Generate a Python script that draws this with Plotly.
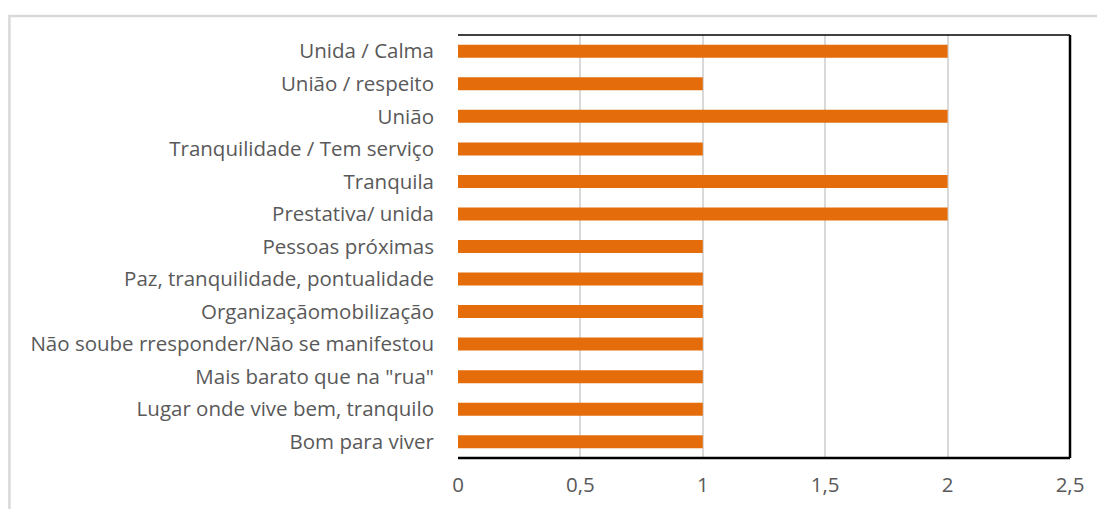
import plotly.graph_objects as go

categorias = [
    "Bom para viver",
    "Lugar onde vive bem, tranquilo",
    "Mais barato que na \"rua\"",
    "Não soube rresponder/Não se manifestou",
    "Organizaçãomobilização",
    "Paz, tranquilidade, pontualidade",
    "Pessoas próximas",
    "Prestativa/ unida",
    "Tranquila",
    "Tranquilidade / Tem serviço",
    "União",
    "União / respeito",
    "Unida / Calma",
]
respostas = [1, 1, 1, 1, 1, 1, 1, 2, 2, 1, 2, 1, 2]
ticks_x = [0, 0.5, 1, 1.5, 2, 2.5]

fig = go.Figure(go.Bar(
    x=respostas, y=categorias, orientation="h",
    marker=dict(color="#E46C0A", line=dict(width=0)),
))

# the page body has an 8px margin, so the figure is a bit smaller
fig.update_layout(
    width=1089, height=501,
    margin=dict(l=450, r=27, t=27, b=51),
    paper_bgcolor="white", plot_bgcolor="white",
    separators=",.",
    bargap=0.6,
    showlegend=False,
    font=dict(family="Open Sans, sans-serif", size=20.5, color="#595959"),
    xaxis=dict(
        range=[0, 2.5], tickvals=ticks_x, showgrid=True,
        gridcolor="#D9D9D9", gridwidth=2, zeroline=False,
        ticks="", ticklabelstandoff=12,
    ),
    yaxis=dict(
        categoryorder="array", categoryarray=categorias,
        ticks="", ticklabelstandoff=23, showgrid=False, zeroline=False,
    ),
    shapes=[
        # outer chart frame (left and top visible)
        dict(type="rect", xref="paper", yref="paper",
             x0=-0.733, x1=1.1, y0=-0.3, y1=1.045,
             line=dict(color="#D9D9D9", width=2.5)),
        # plot area frame
        dict(type="line", xref="paper", yref="paper", x0=0, x1=1, y0=1, y1=1,
             line=dict(color="black", width=1.5)),
        dict(type="line", xref="paper", yref="paper", x0=1, x1=1, y0=0, y1=1,
             line=dict(color="black", width=2.5)),
        dict(type="line", xref="paper", yref="paper", x0=0, x1=1, y0=0, y1=0,
             line=dict(color="black", width=2.5)),
    ],
)

fig.write_html("out.html")
